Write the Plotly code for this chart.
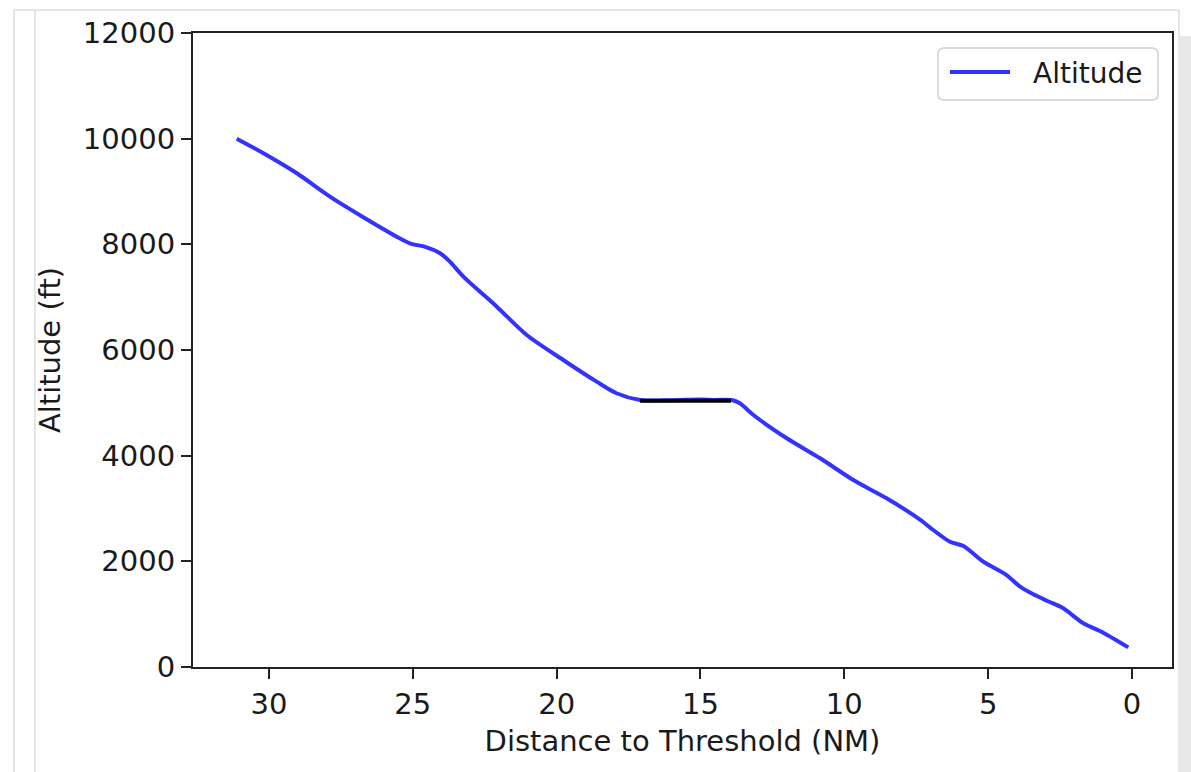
import plotly.graph_objects as go

# Approach profile: distance to threshold (NM) vs altitude (ft)
distance_nm = [31.12, 30.19, 29.03, 27.88, 26.72, 25.56, 25.10, 24.52, 24.05, 23.71,
               23.24, 22.08, 21.04, 19.77, 18.61, 17.92, 17.10, 16.00, 15.00, 14.50,
               13.91, 13.63, 13.16, 12.00, 10.84, 9.69, 8.53, 7.37, 6.91, 6.33,
               5.86, 5.17, 4.36, 3.89, 3.43, 2.90, 2.39, 1.69, 1.00, 0.13]
altitude_ft = [10000, 9724, 9345, 8902, 8512, 8145, 8020, 7944, 7831, 7672,
               7388, 6820, 6284, 5811, 5401, 5181, 5054, 5050, 5065, 5055,
               5054, 4991, 4770, 4329, 3950, 3540, 3193, 2790, 2593, 2372,
               2290, 1993, 1741, 1520, 1376, 1240, 1111, 827, 650, 372]

# Level-off segment
level_distance_nm = [17.10, 13.94]
level_altitude_ft = [5040, 5040]

x_ticks = [30, 25, 20, 15, 10, 5, 0]
y_ticks = [0, 2000, 4000, 6000, 8000, 10000, 12000]
y_tick_labels = ["0", "2000", "4000", "6000", "8000", "10000", "12000"]

FONT = "DejaVu Sans"
FS = 29
TXT = "#1a1a1a"
SPINE = "#222222"
BLUE = "rgba(0,0,255,0.8)"

# Figure geometry in pixels
FIG_W, FIG_H = 1191, 772
L, R, T, B = 193, 1172, 33, 667
PW, PH = R - L, B - T


def px(x):
    return (x - L) / PW


def py(y):
    return (B - y) / PH


fig = go.Figure()
fig.add_trace(go.Scatter(
    x=distance_nm, y=altitude_ft, mode="lines", name="Altitude",
    line=dict(color=BLUE, width=4, shape="spline", smoothing=0.8),
    showlegend=False, hoverinfo="x+y"))
fig.add_trace(go.Scatter(
    x=level_distance_nm, y=level_altitude_ft, mode="lines",
    line=dict(color="black", width=4), showlegend=False))

shapes = []
frame_col = "#dcdcdc"
# notebook cell frame
for (x0, y0, x1, y1) in [(14, 10, 14, FIG_H), (35, 10, 35, FIG_H),
                         (14, 10, 1179, 10), (1179, 10, 1179, 36)]:
    shapes.append(dict(type="line", xref="paper", yref="paper",
                       x0=px(x0), y0=py(y0), x1=px(x1), y1=py(y1),
                       line=dict(color=frame_col, width=1.5), layer="below"))
shapes.append(dict(type="rect", xref="paper", yref="paper",
                   x0=px(1178), y0=py(36), x1=px(FIG_W + 2), y1=py(FIG_H + 2),
                   fillcolor="#e7e7e7", line=dict(width=0), layer="below"))

# legend box with rounded corners
lx0, ly0, lx1, ly1, r = 938, 48, 1158, 100, 6
pts = [("M", lx0 + r, ly0), ("L", lx1 - r, ly0), ("Q", lx1, ly0, lx1, ly0 + r),
       ("L", lx1, ly1 - r), ("Q", lx1, ly1, lx1 - r, ly1), ("L", lx0 + r, ly1),
       ("Q", lx0, ly1, lx0, ly1 - r), ("L", lx0, ly0 + r), ("Q", lx0, ly0, lx0 + r, ly0)]
path = ""
for p in pts:
    cmd, coords = p[0], p[1:]
    conv = []
    for i in range(0, len(coords), 2):
        conv.append(f"{px(coords[i]):.5f},{py(coords[i + 1]):.5f}")
    path += cmd + " ".join(conv) + " "
path += "Z"
shapes.append(dict(type="path", xref="paper", yref="paper", path=path,
                   fillcolor="rgba(255,255,255,0.8)",
                   line=dict(color="#d0d0d0", width=1.5)))
shapes.append(dict(type="line", xref="paper", yref="paper",
                   x0=px(950), y0=py(72), x1=px(1010), y1=py(72),
                   line=dict(color=BLUE, width=4)))

annotations = [dict(text="Altitude", xref="paper", yref="paper",
                    x=px(1031), y=py(73), xanchor="left", yanchor="middle",
                    showarrow=False, font=dict(family=FONT, size=FS - 1, color=TXT))]

axis_common = dict(showline=True, mirror=True, linecolor=SPINE, linewidth=2.2,
                   ticks="outside", ticklen=10, tickwidth=2.2, tickcolor=SPINE,
                   showgrid=False, zeroline=False,
                   tickfont=dict(family=FONT, size=FS, color=TXT))

fig.update_layout(
    width=FIG_W, height=FIG_H,
    margin=dict(l=L, r=FIG_W - R, t=T, b=FIG_H - B),
    paper_bgcolor="white", plot_bgcolor="white",
    shapes=shapes, annotations=annotations,
    xaxis=dict(range=[32.64, -1.39], tickvals=x_ticks,
               title=dict(text="Distance to Threshold (NM)", standoff=11,
                          font=dict(family=FONT, size=FS, color=TXT)),
               **axis_common),
    yaxis=dict(range=[0, 12000], tickvals=y_ticks, ticktext=y_tick_labels,
               title=dict(text="Altitude (ft)", standoff=14,
                          font=dict(family=FONT, size=FS, color=TXT)),
               **axis_common),
)

fig.write_html("out.html")
